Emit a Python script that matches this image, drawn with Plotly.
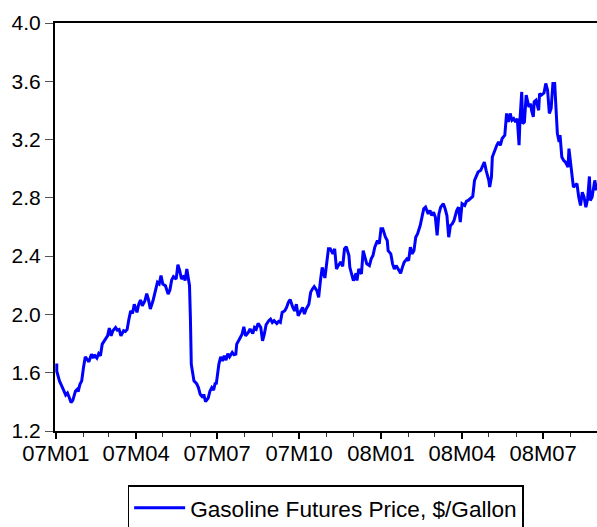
import plotly.graph_objects as go
import pandas as pd

# Gasoline futures price ($/gallon).
# day_offset = calendar days after 2007-01-01
base_date = "2007-01-01"
day_offset = [
    1, 1, 4, 6, 9, 11, 13, 15, 17, 19, 22, 24, 25, 27, 29, 31, 33, 35, 37, 40,
    42, 43, 46, 48, 50, 52, 55, 58, 60, 62, 64, 67, 69, 71, 73, 76, 78, 80, 82, 84,
    86, 88, 91, 93, 95, 97, 100, 102, 104, 106, 109, 111, 114, 116, 118, 120, 123, 126, 128, 130,
    132, 135, 137, 139, 141, 144, 145, 147, 149, 150, 151, 152, 155, 158, 160, 162, 165, 166, 168, 171,
    173, 175, 177, 179, 180, 183, 185, 187, 189, 191, 193, 195, 198, 200, 202, 203, 206, 209, 211, 213,
    216, 218, 221, 223, 225, 227, 230, 232, 234, 236, 239, 241, 243, 245, 248, 250, 252, 254, 257, 259,
    261, 263, 266, 268, 270, 272, 275, 277, 279, 281, 284, 286, 288, 290, 293, 295, 297, 299, 302, 304,
    306, 308, 311, 313, 315, 317, 320, 322, 324, 326, 329, 330, 332, 334, 337, 338, 340, 343, 345, 347,
    349, 352, 354, 356, 358, 361, 363, 365, 367, 370, 372, 373, 376, 378, 380, 382, 385, 387, 389, 391,
    394, 396, 398, 400, 402, 404, 406, 409, 411, 413, 415, 418, 420, 422, 424, 426, 428, 430, 432, 435,
    437, 439, 441, 443, 445, 447, 450, 452, 454, 456, 459, 461, 463, 465, 468, 470, 472, 474, 477, 479,
    481, 483, 486, 487, 489, 490, 492, 495, 497, 499, 501, 504, 506, 508, 510, 512, 514, 516, 518, 520,
    521, 523, 524, 526, 528, 531, 533, 534, 536, 537, 539, 542, 543, 545, 548, 550, 552, 554, 556, 558,
    560, 562, 563, 565, 566, 568, 570, 572, 575, 576, 578, 579, 581, 583, 585, 587, 589, 591, 593, 595,
    597, 599, 600, 602, 605, 607,
]
price = [
    1.663, 1.61, 1.544, 1.52, 1.475, 1.447, 1.46, 1.43, 1.395, 1.41, 1.475, 1.487, 1.47, 1.52, 1.544, 1.636, 1.709, 1.693, 1.675, 1.727,
    1.70, 1.723, 1.70, 1.731, 1.716, 1.796, 1.824, 1.853, 1.906, 1.853, 1.888, 1.91, 1.892, 1.897, 1.853, 1.888, 1.883, 1.897, 1.968, 2.025,
    2.007, 2.07, 2.014, 2.07, 2.099, 2.06, 2.094, 2.142, 2.10, 2.037, 2.094, 2.151, 2.22, 2.209, 2.266, 2.209, 2.197, 2.14, 2.168, 2.237,
    2.259, 2.243, 2.342, 2.30, 2.243, 2.266, 2.232, 2.312, 2.209, 2.197, 1.98, 1.659, 1.544, 1.525, 1.498, 1.452, 1.43, 1.452, 1.401, 1.425,
    1.475, 1.498, 1.48, 1.532, 1.52, 1.659, 1.709, 1.681, 1.716, 1.686, 1.731, 1.709, 1.739, 1.723, 1.727, 1.796, 1.83, 1.865, 1.915, 1.853,
    1.876, 1.90, 1.869, 1.911, 1.90, 1.938, 1.911, 1.819, 1.865, 1.929, 1.957, 1.968, 1.945, 1.957, 1.938, 1.952, 1.945, 2.014, 2.025, 2.048,
    2.083, 2.103, 2.048, 2.025, 2.07, 1.991, 2.025, 2.048, 2.003, 2.037, 2.07, 2.151, 2.175, 2.191, 2.163, 2.117, 2.232, 2.323, 2.25, 2.347,
    2.45, 2.45, 2.416, 2.45, 2.312, 2.335, 2.36, 2.33, 2.45, 2.465, 2.404, 2.323, 2.278, 2.232, 2.282, 2.232, 2.312, 2.278, 2.438, 2.392,
    2.347, 2.335, 2.381, 2.404, 2.461, 2.507, 2.484, 2.588, 2.588, 2.53, 2.507, 2.438, 2.416, 2.347, 2.312, 2.335, 2.30, 2.282, 2.323, 2.358,
    2.381, 2.37, 2.461, 2.416, 2.438, 2.53, 2.553, 2.61, 2.668, 2.725, 2.736, 2.69, 2.713, 2.679, 2.702, 2.668, 2.542, 2.69, 2.736, 2.76,
    2.725, 2.679, 2.53, 2.61, 2.622, 2.645, 2.713, 2.736, 2.633, 2.76, 2.748, 2.777, 2.782, 2.794, 2.81, 2.92, 2.947, 2.977, 2.989, 3.023,
    3.046, 2.989, 2.92, 2.874, 2.943, 3.08, 3.115, 3.161, 3.184, 3.161, 3.207, 3.23, 3.379, 3.321, 3.379, 3.333, 3.344, 3.321, 3.344, 3.161,
    3.333, 3.527, 3.31, 3.321, 3.505, 3.424, 3.447, 3.401, 3.355, 3.459, 3.47, 3.401, 3.516, 3.505, 3.52, 3.585, 3.539, 3.379, 3.413, 3.585,
    3.585, 3.401, 3.241, 3.184, 3.23, 3.08, 3.057, 3.046, 3.011, 3.138, 3.035, 2.966, 2.874, 2.886, 2.897, 2.805, 2.748, 2.839, 2.805, 2.736,
    2.794, 2.947, 2.782, 2.805, 2.92, 2.851,
]
y_ticks = [1.2, 1.6, 2.0, 2.4, 2.8, 3.2, 3.6, 4.0]
series_name = "Gasoline Futures Price, $/Gallon"

dates = pd.to_datetime(base_date) + pd.to_timedelta(day_offset, unit="D")

FONT = "Liberation Sans, Arial, sans-serif"

fig = go.Figure()
fig.add_trace(go.Scatter(
    x=dates, y=price, mode="lines", name=series_name,
    line=dict(color="#0000FF", width=3),
))

# The original chart is cropped at the bottom edge (legend box runs off the page),
# so the figure is a little taller than the window.
fig.update_layout(
    width=597, height=550,
    margin=dict(l=55, r=0, t=23, b=119),
    paper_bgcolor="white", plot_bgcolor="white",
    font=dict(family=FONT, size=22, color="black"),
    showlegend=True,
    legend=dict(
        x=0.134, y=-0.1324, xanchor="left", yanchor="top",
        bordercolor="black", borderwidth=1.5, bgcolor="white",
        font=dict(family=FONT, size=22.6, color="black"),
        itemwidth=51,
    ),
)
fig.update_xaxes(
    type="date",
    range=["2006-12-31", "2008-08-30 12:00"],
    tick0="2007-01-01", dtick="M3", tickformat="%yM%m",
    ticks="outside", ticklen=6, tickwidth=1.5, tickcolor="black",
    ticklabelstandoff=-4,
    minor=dict(dtick="M1", tick0="2007-01-01", ticks="outside", ticklen=4, tickwidth=1.2, tickcolor="#333333"),
    showline=True, linecolor="black", linewidth=2, mirror=True,
    showgrid=False, zeroline=False,
    tickfont=dict(family=FONT, size=22, color="black"),
)
fig.update_yaxes(
    range=[1.2, 4.0], tickmode="array", tickvals=y_ticks,
    tickformat=".1f",
    ticks="outside", ticklen=8, tickwidth=1.2, tickcolor="#555555",
    showline=True, linecolor="black", linewidth=2,
    showgrid=False, zeroline=False,
    tickfont=dict(family=FONT, size=21, color="black"),
)

fig.write_html(
    "out.html",
    config={"displayModeBar": False},
    post_script="document.body.style.margin='0';document.body.style.overflow='hidden';",
)
